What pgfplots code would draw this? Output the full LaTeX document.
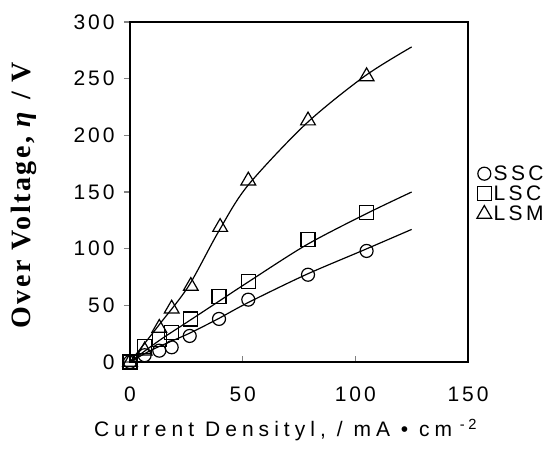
\documentclass[border=0pt]{standalone}
\usepackage{fontspec}
\setmainfont{Liberation Sans}
\newfontfamily\serifb{Liberation Serif}
\usepackage{pgfplots}
\pgfplotsset{compat=1.18}

\pgfplotstableread{
x y
0 0
6.5 6
13 10
18.5 13
26.5 23
39.5 38
52.5 55
79 77
105 98
}\ssc
\pgfplotstableread{
x y
0 0
6.5 14
13 20
18.5 26
27 38
39.5 58
52.5 71
79 108
105 132
}\lsc
\pgfplotstableread{
x y
0 0
6.5 10
13 30
18.5 47
27 67
40 119
52.5 160
79 213
105 252
}\lsm

\begin{document}
\begin{tikzpicture}
\useasboundingbox (-130pt,-86pt) rectangle (424pt,362pt);
\begin{axis}[
  at={(0,0)}, anchor=south west,
  scale only axis, width=338pt, height=340pt,
  xmin=0, xmax=150, ymin=0, ymax=300,
  xtick={0,50,100,150}, ytick={0,50,...,300},
  tick pos=left, tick align=inside,
  major tick length=6pt,
  ytick style={xshift=-6pt, line width=1.2pt},
  xtick style={line width=1.2pt},
  axis line style={line width=1.2pt},
  clip=false,
  /pgf/number format/assume math mode=true,
  ticklabel style={font=\fontsize{21}{21}\selectfont\addfontfeatures{LetterSpace=14}},
  yticklabel style={xshift=-12pt},
  xticklabel style={yshift=-21pt},
  xlabel={Current Densityl, / mA \textbullet\ cm\textsuperscript{ -2}},
  xlabel style={at={(axis description cs:0.46,0)}, anchor=center, yshift=-68pt,
    font=\fontsize{21}{21}\selectfont\addfontfeatures{LetterSpace=24}},
  ylabel={Over Voltage, \textit{η} / V},
  ylabel style={at={(axis description cs:-0.315,0.49)}, anchor=center,
    font=\serifb\bfseries\fontsize{28}{28}\selectfont\addfontfeatures{LetterSpace=9}},
  legend style={at={(axis description cs:1.02,0.59)}, anchor=north west, draw=none, fill=none,
    font=\fontsize{21}{21}\selectfont\addfontfeatures{LetterSpace=16},
    row sep=0pt, inner sep=2pt},
  legend cell align=left,
]
\addplot[only marks, mark=o, mark size=6.5pt, mark options={line width=1.2pt}] table {\ssc};
\addlegendentry{SSC}
\addplot[only marks, mark=square, mark size=7pt, mark options={line width=1.2pt}] table {\lsc};
\addlegendentry{LSC}
\addplot[only marks, mark=triangle, mark size=8.5pt, mark options={line width=1.2pt}] table {\lsm};
\addlegendentry{LSM}
\addplot[forget plot, smooth, line width=1.2pt] coordinates {
(0,0) (10,11) (26,25) (39,38) (52,52) (78,77) (104,99) (125,117)};
\addplot[forget plot, smooth, line width=1.2pt] coordinates {
(0,0) (13,19) (26,36) (39,53) (52,70) (78,103) (104,130) (125,150)};
\addplot[forget plot, smooth, line width=1.2pt] coordinates {
(0,0) (13,33) (26,67) (39,114) (52,155) (78,210) (104,252) (125,278)};
\end{axis}
\end{tikzpicture}
\end{document}
